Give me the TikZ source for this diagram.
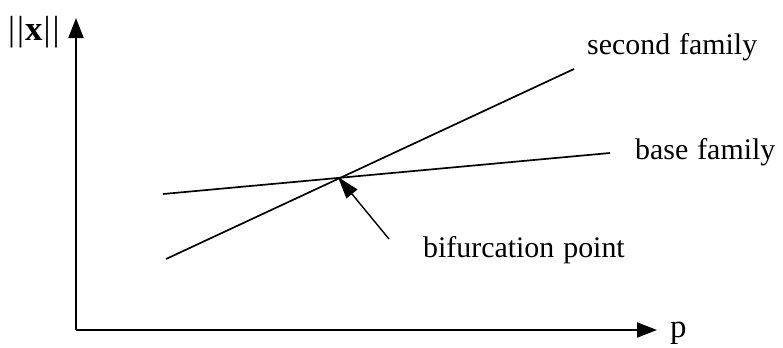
\documentclass[tikz,border=0pt]{standalone}
\usepackage{fontspec}
\setmainfont{Liberation Serif}
\usetikzlibrary{arrows.meta}
\begin{document}
\begin{tikzpicture}[x=1bp,y=-1bp,
  lbl/.style={anchor=base west,inner sep=0pt,font=\fontsize{30}{36}\selectfont},
  axis/.style={line width=2bp,-{Triangle[length=20bp,width=15bp]}},
  family/.style={line width=1.7bp},
  pointer/.style={line width=1.4bp,-{Triangle[length=22bp,width=14bp]}}]
\useasboundingbox (0,0) rectangle (783,347);
\coordinate (O) at (76,330);
\coordinate (ytip) at (76,18);
\coordinate (xtip) at (657,330);
\draw[axis] (O) -- (ytip);
\draw[axis] (O) -- (xtip);
\coordinate (b1) at (163,194);
\coordinate (b2) at (610,153);
\coordinate (s1) at (166,259);
\coordinate (s2) at (574,69);
\coordinate (bif) at (338,177);
\coordinate (tail) at (389,239);
\draw[family] (b1) -- (b2);
\draw[family] (s1) -- (s2);
\draw[pointer] (tail) -- (bif);
\node[lbl,font=\fontsize{35}{40}\selectfont] (ylab) at (8,40) {|\hspace{2bp}|\hspace{1bp}\textbf{x}\hspace{1bp}|\hspace{2bp}|};
\node[lbl,font=\fontsize{33}{40}\selectfont] (xlab) at (670,337) {p};
\node[lbl] (second) at (587,54) {second\hspace{0.3em}family};
\node[lbl] (base) at (635,159) {base\hspace{0.3em}family};
\node[lbl] (bifl) at (423,257) {bifurcation\hspace{0.3em}point};
\end{tikzpicture}
\end{document}
